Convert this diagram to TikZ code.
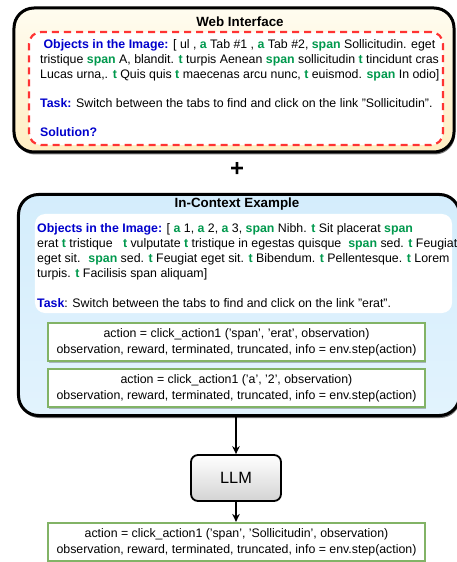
\documentclass[tikz,border=0pt]{standalone}
\usepackage{fontspec}
\setmainfont{Liberation Sans}
\usetikzlibrary{arrows.meta,shadows}

\definecolor{objblue}{RGB}{0,0,204}
\definecolor{taggreen}{RGB}{0,153,77}
\definecolor{dashred}{RGB}{255,51,51}
\definecolor{boxgreen}{RGB}{130,179,102}
\definecolor{webtop}{RGB}{255,252,240}
\definecolor{webbot}{RGB}{255,238,195}
\definecolor{ctxtop}{RGB}{212,237,252}
\definecolor{ctxbot}{RGB}{226,243,253}

% inline markup for element tags and labels
\newcommand{\tagw}[1]{\textbf{\color{taggreen}#1}}
\newcommand{\lbl}[1]{\textbf{\color{objblue}#1}}

\begin{document}
\begin{tikzpicture}[x=1bp,y=-1bp,
  txt/.style={anchor=base west, inner sep=0pt, font=\fontsize{12.4}{15}\selectfont},
  ttl/.style={anchor=base, inner sep=0pt, font=\fontsize{13.4}{16}\selectfont\bfseries},
  panel/.style={draw=black, line width=3bp, rounded corners=20bp, inner sep=0pt,
    drop shadow={shadow xshift=1bp, shadow yshift=-2.5bp, fill=black, opacity=0.55}},
  codebox/.style={draw=boxgreen, line width=2.2bp, fill=white, inner sep=0pt,
    minimum width=377bp, minimum height=38bp, align=center,
    font=\fontsize{12.4}{16}\selectfont,
    drop shadow={shadow xshift=1bp, shadow yshift=-1.5bp, fill=black, opacity=0.25}},
  arr/.style={line width=1.5bp, -{Stealth[length=8bp,width=7.5bp]}}
]
\useasboundingbox (0,0) rectangle (457,562);

% ---------- web interface panel ----------
\node[panel, top color=webtop, bottom color=webbot, minimum width=440bp, minimum height=144bp]
  (web) at (234,80) {};
\node[draw=dashred, line width=2.2bp, dash pattern=on 7bp off 5bp, fill=white,
  rounded corners=12bp, minimum width=414bp, minimum height=113bp, inner sep=0pt]
  (webin) at (236,88.5) {};
\node[ttl] (webttl) at (240,27) {Web Interface};
\node[txt] (w1) at (40,49) {\ \lbl{Objects in the Image:} [ ul , \tagw{a} Tab \#1 , \tagw{a} Tab \#2, \tagw{span} Sollicitudin. eget};
\node[txt] (w2) at (40,64) {tristique \tagw{span} A, blandit. \tagw{t} turpis Aenean \tagw{span} sollicitudin \tagw{t} tincidunt cras};
\node[txt] (w3) at (40,79) {Lucas urna,. \tagw{t} Quis quis \tagw{t} maecenas arcu nunc, \tagw{t} euismod. \tagw{span} In odio]};
\node[txt] (w4) at (40,108) {\lbl{Task:} Switch between the tabs to find and click on the link "Sollicitudin".};
\node[txt] (w5) at (40,137) {\lbl{Solution?}};

% ---------- plus ----------
\node[anchor=base, inner sep=0pt, font=\fontsize{24}{24}\selectfont\bfseries] (plus) at (237,177) {+};

% ---------- in-context example panel ----------
\node[panel, top color=ctxtop, bottom color=ctxbot, minimum width=441bp, minimum height=221bp]
  (ctx) at (239,305) {};
\node[fill=white, rounded corners=10bp, minimum width=417bp, minimum height=99bp, inner sep=0pt]
  (ctxin) at (243.5,263.5) {};
\node[ttl] (ctxttl) at (237,208) {In-Context Example};
\node[txt] (c1) at (37,232) {\lbl{Objects in the Image:} [ \tagw{a} 1, \tagw{a} 2, \tagw{a} 3, \tagw{span} Nibh. \tagw{t} Sit placerat \tagw{span}};
\node[txt] (c2) at (37,247) {erat \tagw{t} tristique \ \ \tagw{t} vulputate \tagw{t} tristique in egestas quisque \ \tagw{span} sed. \tagw{t} Feugiat};
\node[txt] (c3) at (37,262) {eget sit. \ \tagw{span} sed. \tagw{t} Feugiat eget sit. \tagw{t} Bibendum. \tagw{t} Pellentesque. \tagw{t} Lorem};
\node[txt] (c4) at (37,277) {turpis. \tagw{t} Facilisis span aliquam]};
\node[txt] (c5) at (37,307) {\lbl{Task}: Switch between the tabs to find and click on the link "erat".};

\node[codebox] (ex1) at (236.5,342) {action = click\_action1 ('span', 'erat', observation)\\observation, reward, terminated, truncated, info = env.step(action)};
\node[codebox] (ex2) at (236.5,388) {action = click\_action1 ('a', '2', observation)\\observation, reward, terminated, truncated, info = env.step(action)};

% ---------- model and answer ----------
\node[draw=black, line width=1.8bp, rounded corners=7bp, top color=white, bottom color=black!17,
  minimum width=90bp, minimum height=46bp, inner sep=0pt, font=\fontsize{16.4}{18}\selectfont]
  (llm) at (236,478) {LLM};
\node[codebox] (ans) at (236.5,542) {action = click\_action1 ('span', 'Sollicitudin', observation)\\observation, reward, terminated, truncated, info = env.step(action)};

\draw[arr] (ctx.south -| llm.north) -- (llm.north);
\draw[arr] (llm.south) -- (llm.south |- ans.north);
\end{tikzpicture}
\end{document}
